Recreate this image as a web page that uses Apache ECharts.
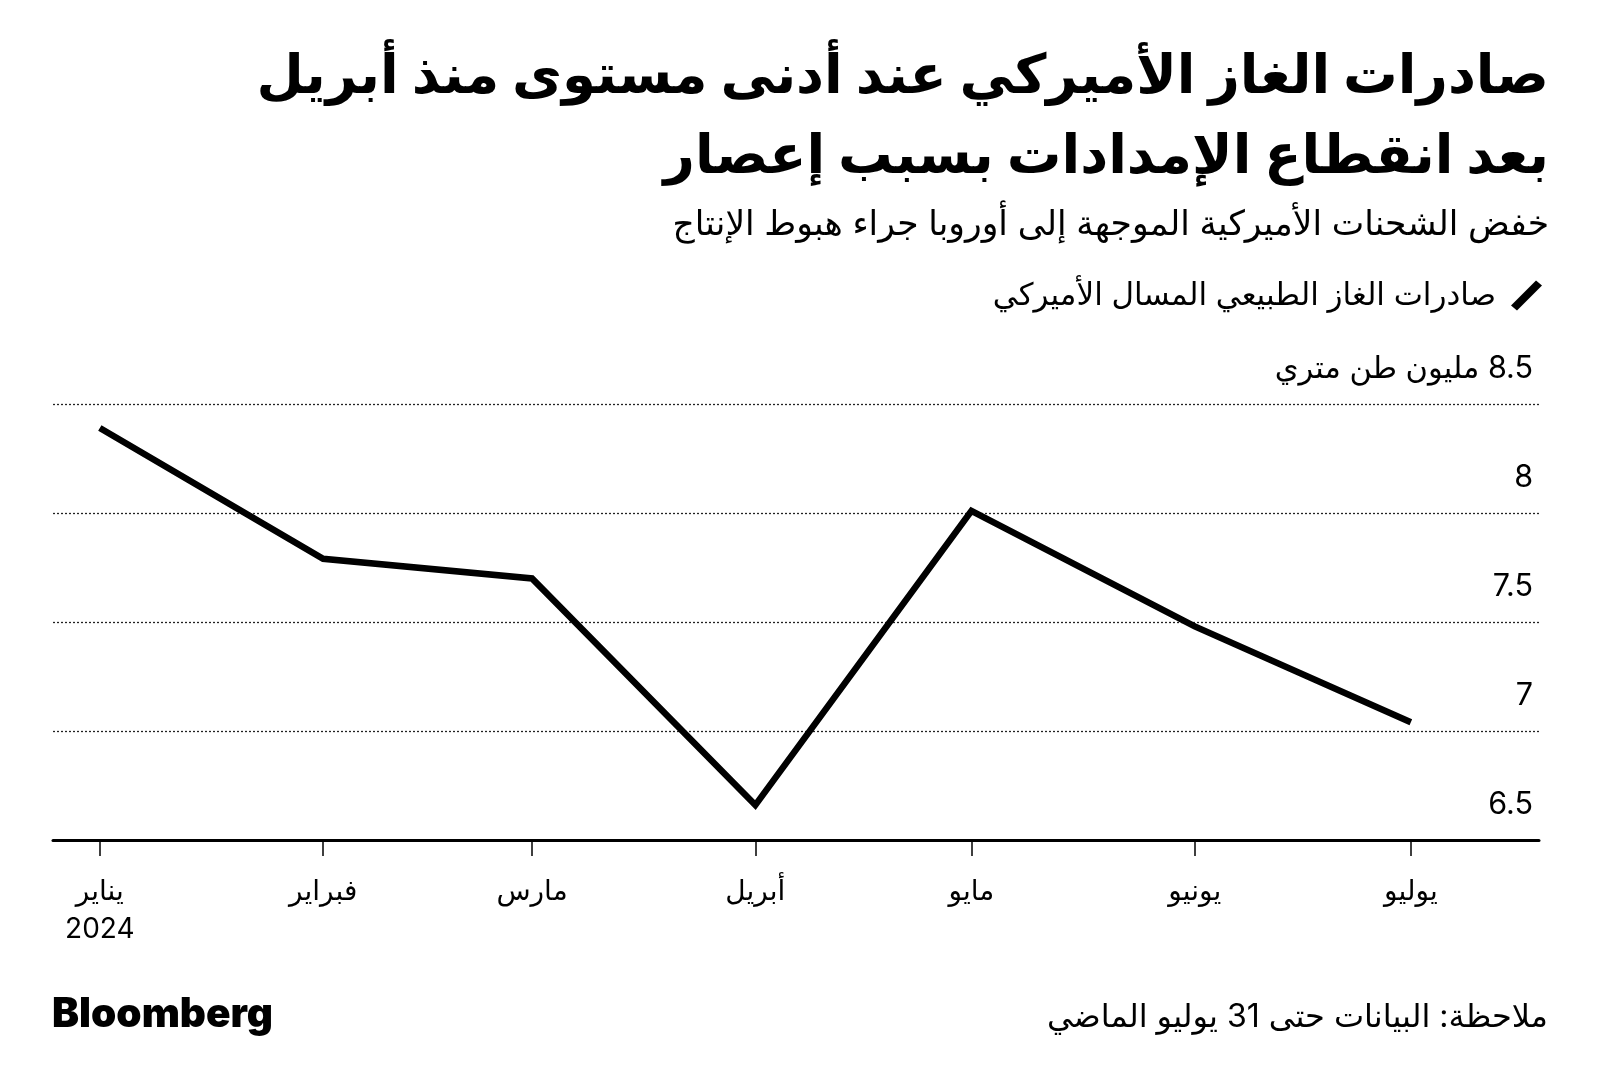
<!DOCTYPE html>
<html>
<head>
<meta charset="utf-8">
<script src="https://cdn.jsdelivr.net/npm/echarts@6/dist/echarts.min.js"></script>
<style>
  html, body { margin: 0; padding: 0; background: #fff; }
  #chart { width: 1600px; height: 1092px; }
</style>
</head>
<body>
<div id="chart" dir="rtl"></div>
<script>
// 数据：每月初的出口量（百万公吨）
const dates = ['2024-01-01', '2024-02-01', '2024-03-01', '2024-04-01', '2024-05-01', '2024-06-01', '2024-07-01']
const values = [8.39, 7.79, 7.70, 6.66, 8.01, 7.48, 7.04]
const monthNames = ['يناير', 'فبراير', 'مارس', 'أبريل', 'مايو', 'يونيو', 'يوليو']
const yearLabel = '2024'
const yTicks = [6.5, 7, 7.5, 8, 8.5]
const unitLabel = 'مليون طن متري'
const seriesName = 'صادرات الغاز الطبيعي المسال الأميركي'

const FONT = 'Inter, "DejaVu Sans", sans-serif'

const toTime = s => echarts.time.parse(s).getTime()
const tickTimes = dates.map(toTime)

const chart = echarts.init(document.getElementById('chart'))

const option = {
  animation: false,
  backgroundColor: '#fff',
  textStyle: { fontFamily: FONT, color: '#000' },
  title: [
    {
      text: 'صادرات الغاز الأميركي عند أدنى مستوى منذ أبريل',
      right: 51,
      top: 47,
      padding: 0,
      textStyle: { fontSize: 54.5, fontWeight: 'bold', lineHeight: 60, color: '#000', fontFamily: FONT }
    },
    {
      text: 'بعد انقطاع الإمدادات بسبب إعصار',
      right: 51,
      top: 127,
      padding: 0,
      textStyle: { fontSize: 54.5, fontWeight: 'bold', lineHeight: 60, color: '#000', fontFamily: FONT }
    },
    {
      text: 'خفض الشحنات الأميركية الموجهة إلى أوروبا جراء هبوط الإنتاج',
      right: 51,
      top: 205,
      padding: 0,
      textStyle: { fontSize: 34.5, fontWeight: 'normal', lineHeight: 40, color: '#000', fontFamily: FONT }
    },
    {
      text: 'ملاحظة: البيانات حتى 31 يوليو الماضي',
      right: 52,
      top: 999,
      padding: 0,
      textStyle: { fontSize: 32, fontWeight: 'normal', lineHeight: 36, color: '#000', fontFamily: FONT }
    },
    {
      text: 'Bloomberg',
      left: 52,
      top: 991,
      padding: 0,
      textStyle: { fontSize: 40.5, fontWeight: 900, lineHeight: 48, color: '#000', fontFamily: 'Inter, sans-serif' }
    }
  ],
  legend: {
    right: 53,
    top: 275,
    align: 'right',
    itemWidth: 31,
    itemHeight: 30,
    icon: 'path://M25,0 L31,5 L6,30 L0,25 Z',
    textStyle: { fontSize: 31, color: '#000', fontFamily: FONT, padding: [0, 10, 0, 0] },
    data: [{ name: seriesName, itemStyle: { color: '#000' } }]
  },
  grid: {
    left: 53,
    right: 61,
    top: 404,
    bottom: 1092 - 840,
    containLabel: false,
    outerBoundsMode: 'none'
  },
  xAxis: {
    type: 'value',
    min: toTime('2023-12-25 12:00'),
    max: toTime('2024-07-18 19:00'),
    axisLine: { show: true, lineStyle: { color: '#000', width: 3 } },
    axisTick: {
      show: true,
      customValues: tickTimes,
      length: 16,
      lineStyle: { color: '#000', width: 1.5 }
    },
    axisLabel: {
      customValues: tickTimes,
      margin: 33,
      fontSize: 28,
      lineHeight: 38,
      color: '#000',
      fontFamily: FONT,
      formatter: function (v) {
        const m = new Date(v).getMonth()
        return m === 0 ? monthNames[m] + '\n' + yearLabel : monthNames[m]
      }
    },
    splitLine: { show: false }
  },
  yAxis: {
    type: 'value',
    position: 'right',
    min: 6.5,
    max: 8.5,
    interval: 0.5,
    axisLine: { show: false },
    axisTick: { show: false },
    axisLabel: {
      inside: true,
      margin: 6,
      align: 'right',
      verticalAlign: 'bottom',
      padding: [0, 0, 20, 0],
      fontSize: 30.5,
      color: '#000',
      fontFamily: FONT,
      formatter: function (v) {
        return v === yTicks[yTicks.length - 1] ? v + ' ' + unitLabel : String(v)
      }
    },
    splitLine: {
      show: true,
      lineStyle: { color: '#222', width: 1.3, type: [2, 2] }
    }
  },
  series: [{
    name: seriesName,
    type: 'line',
    data: dates.map((d, i) => [toTime(d), values[i]]),
    symbol: 'none',
    lineStyle: { color: '#000', width: 6.5, join: 'miter' },
    itemStyle: { color: '#000' }
  }]
}

chart.setOption(option)
</script>
</body>
</html>
